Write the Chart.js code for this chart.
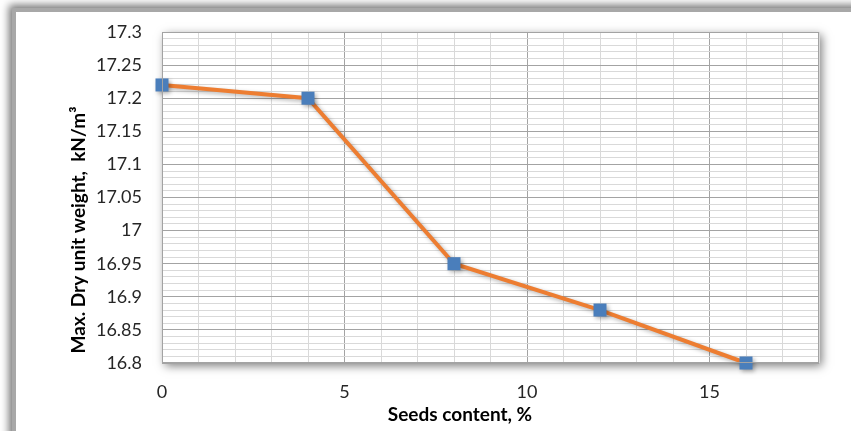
<!DOCTYPE html>
<html>
<head>
<meta charset="utf-8">
<script src="https://cdn.jsdelivr.net/npm/chart.js@4/dist/chart.umd.min.js"></script>
<style>
  html, body { margin: 0; padding: 0; background: #ffffff; }
  #wrap { width: 851px; height: 431px; position: relative; }
</style>
</head>
<body>
<div id="wrap"><canvas id="chart" width="851" height="431"></canvas></div>
<script>
// Seeds content (%) against maximum dry unit weight (kN/m³)
const seedsContent = [0, 4, 8, 12, 16];
const dryUnitWeight = [17.22, 17.2, 16.95, 16.88, 16.8];
const xTickLabels = [0, 5, 10, 15];
const yTickLabels = [16.8, 16.85, 16.9, 16.95, 17, 17.05, 17.1, 17.15, 17.2, 17.25, 17.3];
const xTitle = 'Seeds content, %';
const yTitle = 'Max. Dry unit weight,  kN/m\u00B3';

const FONT = 'Lato, "Open Sans", sans-serif';
const MAJOR = '#a3a3a3';
const MINOR = '#d9d9d9';

const isXLabel = v => xTickLabels.some(t => Math.abs(t - v) < 1e-6);
const isYLabel = v => yTickLabels.some(t => Math.abs(t - v) < 1e-6);

// Outer frame and shaded plot panel, drawn before the grid
const framePlugin = {
  id: 'framePlugin',
  beforeDraw(chart) {
    const ctx = chart.ctx;
    const a = chart.chartArea;
    ctx.save();
    ctx.fillStyle = '#ffffff';
    ctx.fillRect(0, 0, chart.width, chart.height);
    ctx.shadowColor = 'rgba(0,0,0,0.55)';
    ctx.shadowBlur = 8;
    ctx.shadowOffsetX = -3;
    ctx.shadowOffsetY = -3;
    ctx.fillStyle = '#a8a8a8';
    ctx.fillRect(12, 8, chart.width + 40, chart.height + 40);
    ctx.restore();
    ctx.save();
    ctx.fillStyle = '#ffffff';
    ctx.fillRect(16, 12, chart.width + 40, chart.height + 40);
    ctx.shadowColor = 'rgba(0,0,0,0.5)';
    ctx.shadowBlur = 9;
    ctx.shadowOffsetX = 3;
    ctx.shadowOffsetY = 3;
    ctx.fillRect(a.left, a.top, a.right - a.left, a.bottom - a.top);
    ctx.restore();
  },
  afterDraw(chart) {
    const ctx = chart.ctx;
    const a = chart.chartArea;
    ctx.save();
    ctx.strokeStyle = MAJOR;
    ctx.lineWidth = 1;
    ctx.strokeRect(a.left + 0.5, a.top + 0.5, a.right - a.left - 1, a.bottom - a.top - 1);
    ctx.restore();
  }
};

// Axis titles
const titlePlugin = {
  id: 'titlePlugin',
  afterDraw(chart) {
    const ctx = chart.ctx;
    ctx.save();
    ctx.fillStyle = '#000000';
    ctx.font = 'bold 19px ' + FONT;
    ctx.textAlign = 'center';
    ctx.textBaseline = 'middle';
    ctx.fillText(xTitle, 460, 415);
    ctx.translate(79, 230);
    ctx.rotate(-Math.PI / 2);
    ctx.fillText(yTitle, 0, 0);
    ctx.restore();
  }
};

// Soft shadow under the line and markers
const markShadow = {
  id: 'markShadow',
  beforeDatasetDraw(chart) {
    const ctx = chart.ctx;
    ctx.save();
    ctx.shadowColor = 'rgba(0,0,0,0.3)';
    ctx.shadowBlur = 4;
    ctx.shadowOffsetX = 2;
    ctx.shadowOffsetY = 2;
  },
  afterDatasetDraw(chart) {
    chart.ctx.restore();
  }
};

new Chart(document.getElementById('chart'), {
  type: 'line',
  data: {
    datasets: [{
      data: seedsContent.map((x, i) => ({ x: x, y: dryUnitWeight[i] })),
      borderColor: '#ED7D31',
      borderWidth: 4,
      tension: 0,
      pointStyle: 'rect',
      pointRadius: 9.2,
      pointHoverRadius: 9.2,
      pointBackgroundColor: '#4A7EBB',
      pointBorderColor: '#4A7EBB',
      pointBorderWidth: 0,
      clip: false
    }]
  },
  options: {
    responsive: false,
    animation: false,
    events: [],
    layout: { padding: { top: 32, right: 32, left: 0, bottom: 0 } },
    plugins: {
      legend: { display: false },
      tooltip: { enabled: false }
    },
    scales: {
      x: {
        type: 'linear',
        min: 0,
        max: 18,
        afterFit(scale) { scale.height = 68; },
        ticks: {
          stepSize: 1,
          autoSkip: false,
          maxRotation: 0,
          padding: 18,
          color: '#262626',
          font: { family: FONT, size: 18 },
          callback: v => isXLabel(v) ? String(v) : ''
        },
        grid: {
          drawTicks: false,
          color: ctx => isXLabel(ctx.tick.value) ? MAJOR : MINOR
        },
        border: { display: false }
      },
      y: {
        type: 'linear',
        min: 16.8,
        max: 17.3,
        afterFit(scale) { scale.width = 162; },
        ticks: {
          stepSize: 0.01,
          maxTicksLimit: 100,
          autoSkip: false,
          padding: 20,
          color: '#262626',
          font: { family: FONT, size: 18 },
          callback: v => isYLabel(v) ? String(Number(v.toFixed(2))) : ''
        },
        grid: {
          drawTicks: false,
          color: ctx => isYLabel(ctx.tick.value) ? MAJOR : MINOR
        },
        border: { display: false }
      }
    }
  },
  plugins: [framePlugin, markShadow, titlePlugin]
});
</script>
</body>
</html>
